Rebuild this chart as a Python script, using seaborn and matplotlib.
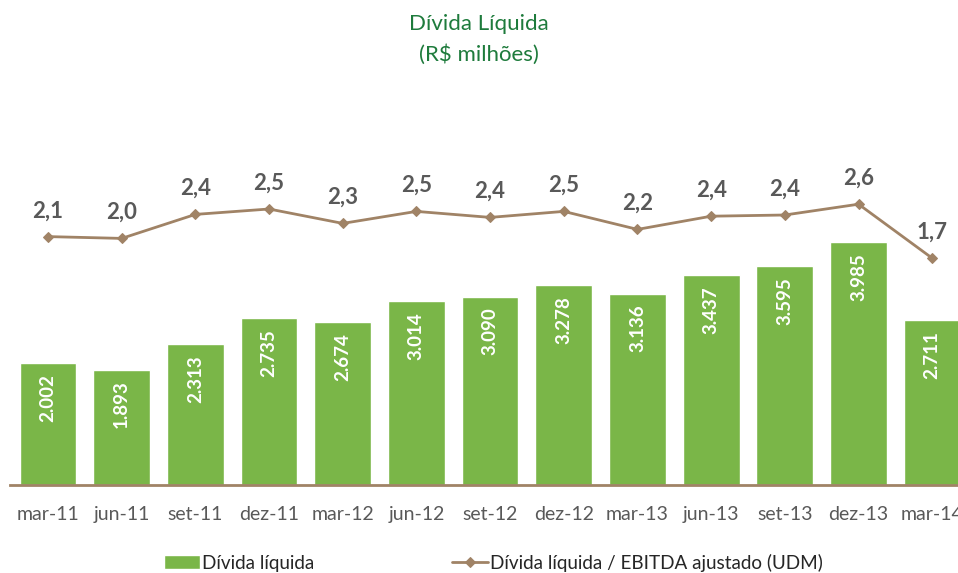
import pandas as pd
import numpy as np
import matplotlib.pyplot as plt
import seaborn as sns

# Data
quarters = ['mar-11', 'jun-11', 'set-11', 'dez-11', 'mar-12', 'jun-12', 'set-12',
            'dez-12', 'mar-13', 'jun-13', 'set-13', 'dez-13', 'mar-14']
net_debt = [2002, 1893, 2313, 2735, 2674, 3014, 3090, 3278, 3136, 3437, 3595, 3985, 2711]
ratio = [2.06, 2.03, 2.43, 2.52, 2.28, 2.48, 2.38, 2.48, 2.18, 2.4, 2.42, 2.6, 1.7]
ratio_labels = ['2,1', '2,0', '2,4', '2,5', '2,3', '2,5', '2,4', '2,5', '2,2', '2,4', '2,4', '2,6', '1,7']

green = '#7AB648'
brown = '#A08366'
grey = '#595959'
title_green = '#1E7B3C'

sns.set_style("white")
plt.rcParams['font.family'] = ['Lato', 'DejaVu Sans']

df = pd.DataFrame({'quarter': quarters, 'debt': net_debt, 'ratio': ratio})
df['pos'] = np.arange(len(df))

fig = plt.figure(figsize=(9.58, 5.73), dpi=100)
ax = fig.add_axes([10/958, 88/573, 948/958, 345/573])

sns.barplot(data=df, x='quarter', y='debt', color=green, width=0.77, saturation=1,
            ax=ax, label='Dívida líquida')
ax.set_ylim(0, 5656)
ax.set_xlim(-0.516, 12.35)

# labels inside bars
for i, v in enumerate(net_debt):
    ax.annotate(f"{v/1000:.3f}", (i, v), xytext=(0, -8), textcoords='offset points',
                rotation=90, ha='center', va='top', color='white',
                fontsize=13.5, fontweight='bold')

ax2 = ax.twinx()
sns.lineplot(data=df, x='pos', y='ratio', color=brown, lw=2, marker='D',
             markersize=5, markeredgecolor=brown, ax=ax2,
             label='Dívida líquida / EBITDA ajustado (UDM)')
ax2.set_ylim(-2.08, 3.67)
ax2.set_xlim(-0.516, 12.35)
for i, (v, lab) in enumerate(zip(ratio, ratio_labels)):
    ax2.annotate(lab, (i, v), xytext=(0, 11), textcoords='offset points',
                 ha='center', va='bottom', color=grey, fontsize=16, fontweight='bold')

for a in (ax, ax2):
    for s in ['top', 'right', 'left']:
        a.spines[s].set_visible(False)
    a.set_ylabel('')
    a.set_xlabel('')
    a.set_yticks([])
ax2.spines['bottom'].set_visible(False)
ax.spines['bottom'].set_color(brown)
ax.spines['bottom'].set_linewidth(2)
ax.tick_params(axis='x', length=0, pad=15, labelsize=14, labelcolor=grey)

# legend
h1, l1 = ax.get_legend_handles_labels()
h2, l2 = ax2.get_legend_handles_labels()
if ax.get_legend():
    ax.get_legend().remove()
if ax2.get_legend():
    ax2.get_legend().remove()
fig.legend(h1 + h2, l1 + l2, loc='center', bbox_to_anchor=(0.515, 0.018), ncol=2,
           frameon=False, fontsize=13.6, columnspacing=7.3, handlelength=1.9,
           handletextpad=0.1)

fig.text(0.5, 0.958, 'Dívida Líquida', ha='center', va='center', color=title_green, fontsize=16)
fig.text(0.5, 0.905, '(R$ milhões)', ha='center', va='center', color=title_green, fontsize=16)

fig.savefig('out.png', dpi=100)
